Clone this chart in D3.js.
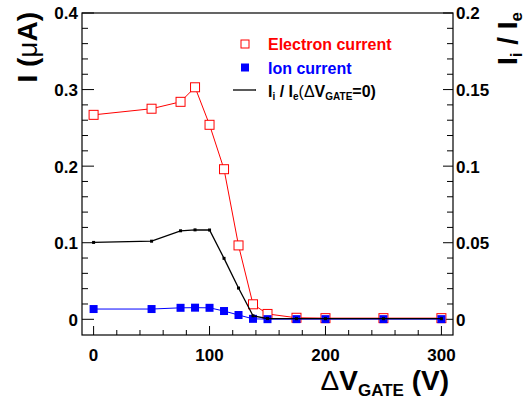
<!DOCTYPE html>
<html>
<head>
<meta charset="utf-8">
<script src="https://cdn.jsdelivr.net/npm/d3@7"></script>
<style>
  body { margin: 0; background: #fff; }
  text { font-family: "Liberation Sans", Arial, sans-serif; font-weight: bold; }
</style>
</head>
<body>
<svg id="chart" width="531" height="401"></svg>
<script>
// gate voltage difference (V)
const dvGate = [0, 50, 75, 87.5, 100, 112.5, 125, 137.5, 150, 175, 200, 250, 300];
// currents in uA
const electronCurrent = [0.267, 0.275, 0.284, 0.303, 0.254, 0.196, 0.0965, 0.0196, 0.007, 0.002, 0.0015, 0.0015, 0.0015];
const ionCurrent = [0.0134, 0.0134, 0.015, 0.0152, 0.015, 0.0108, 0.0056, 0.0006, 0.0002, 0.0002, 0.0002, 0.0002, 0.0002];
// Ii / Ie(dV=0), right axis
const ratio = [0.0502, 0.051, 0.0578, 0.0584, 0.0583, 0.0398, 0.0204, 0.0023, 0.0005, 0.0004, 0.0004, 0.0004, 0.0004];

const xTicks = [0, 100, 200, 300];
const yTicks = [0, 0.1, 0.2, 0.3, 0.4];
const y2Ticks = [0, 0.05, 0.1, 0.15, 0.2];

const svg = d3.select("#chart");
const L = 82, R = 453, T = 13, B = 335;

const x = d3.scaleLinear().domain([-10, 310]).range([L, R]);
const y = d3.scaleLinear().domain([-0.0205, 0.4]).range([B, T]);
const y2 = d3.scaleLinear().domain([-0.01025, 0.2]).range([B, T]);

// frame
svg.append("rect")
  .attr("x", L).attr("y", T).attr("width", R - L).attr("height", B - T)
  .attr("fill", "none").attr("stroke", "#000").attr("stroke-width", 1.2);

// left axis
let ax = svg.append("g").attr("stroke", "#000").attr("stroke-width", 1);
d3.range(0, 0.4001, 0.02).forEach((v, i) => {
  let len = (i % 5 === 0) ? 12 : 6;
  ax.append("line").attr("x1", L).attr("x2", L + len).attr("y1", y(v)).attr("y2", y(v));
});
svg.selectAll(".ylab").data(yTicks).enter().append("text")
  .attr("x", 78).attr("y", d => y(d)).attr("dy", "0.38em")
  .attr("text-anchor", "end").attr("font-size", 17)
  .text(d => d3.format("~g")(d));

// right axis
d3.range(0, 0.2001, 0.01).forEach((v, i) => {
  let len = (i % 5 === 0) ? 10 : 6;
  ax.append("line").attr("x1", R).attr("x2", R - len).attr("y1", y2(v)).attr("y2", y2(v));
});
svg.selectAll(".y2lab").data(y2Ticks).enter().append("text")
  .attr("x", 456).attr("y", d => y2(d)).attr("dy", "0.38em")
  .attr("text-anchor", "start").attr("font-size", 17)
  .text(d => d3.format("~g")(d));

// bottom axis
d3.range(0, 301, 20).forEach((v, i) => {
  let len = (i % 5 === 0) ? 9 : 5;
  ax.append("line").attr("x1", x(v)).attr("x2", x(v)).attr("y1", B).attr("y2", B - len);
});
svg.selectAll(".xlab").data(xTicks).enter().append("text")
  .attr("x", d => x(d)).attr("y", 361)
  .attr("text-anchor", "middle").attr("font-size", 17)
  .text(d => d);

// axis titles
let xt = svg.append("text").attr("x", 449).attr("y", 390).attr("text-anchor", "end").attr("font-size", 28);
xt.append("tspan").attr("font-weight", "normal").text("\u0394");
xt.append("tspan").text("V");
xt.append("tspan").attr("font-size", 17).attr("dy", 6).text("GATE");
xt.append("tspan").attr("dy", -6).text(" (V)");

let yt = svg.append("text").attr("transform", "translate(37,12) rotate(-90)")
  .attr("text-anchor", "end").attr("font-size", 28);
yt.append("tspan").text("I (");
yt.append("tspan").attr("font-weight", "normal").text("\u03bc");
yt.append("tspan").text("A)");

let y2t = svg.append("text").attr("transform", "translate(517,12) rotate(-90)")
  .attr("text-anchor", "end").attr("font-size", 28);
y2t.append("tspan").text("I");
y2t.append("tspan").attr("font-size", 17).attr("dy", 5).text("i");
y2t.append("tspan").attr("dy", -5).text(" / I");
y2t.append("tspan").attr("font-size", 17).attr("dy", 5).text("e");

// series
const pts = (ys) => dvGate.map((d, i) => [d, ys[i]]);

svg.append("path").datum(pts(electronCurrent))
  .attr("fill", "none").attr("stroke", "#ff0000").attr("stroke-width", 1)
  .attr("d", d3.line().x(d => x(d[0])).y(d => y(d[1])));
svg.selectAll(".el").data(pts(electronCurrent)).enter().append("rect")
  .attr("x", d => x(d[0]) - 4.5).attr("y", d => y(d[1]) - 4.5)
  .attr("width", 9).attr("height", 9)
  .attr("fill", "#fff").attr("stroke", "#ff0000").attr("stroke-width", 1);

svg.append("path").datum(pts(ionCurrent))
  .attr("fill", "none").attr("stroke", "#0000ff").attr("stroke-width", 1)
  .attr("d", d3.line().x(d => x(d[0])).y(d => y(d[1])));
svg.selectAll(".ion").data(pts(ionCurrent)).enter().append("rect")
  .attr("x", d => x(d[0]) - 4).attr("y", d => y(d[1]) - 4)
  .attr("width", 8).attr("height", 8)
  .attr("fill", "#0000ff");

svg.append("path").datum(pts(ratio))
  .attr("fill", "none").attr("stroke", "#000").attr("stroke-width", 1.3)
  .attr("d", d3.line().x(d => x(d[0])).y(d => y2(d[1])));
svg.selectAll(".rat").data(pts(ratio)).enter().append("rect")
  .attr("x", d => x(d[0]) - 1.5).attr("y", d => y2(d[1]) - 1.5)
  .attr("width", 3).attr("height", 3).attr("fill", "#000");

// legend
let lg = svg.append("g");
lg.append("rect").attr("x", 241).attr("y", 40).attr("width", 8).attr("height", 8)
  .attr("fill", "#fff").attr("stroke", "#ff0000");
lg.append("text").attr("x", 268).attr("y", 50).attr("font-size", 16).attr("fill", "#ff0000").text("Electron current");
lg.append("rect").attr("x", 241).attr("y", 63.5).attr("width", 8).attr("height", 8).attr("fill", "#0000ff");
lg.append("text").attr("x", 268).attr("y", 74).attr("font-size", 16).attr("fill", "#0000ff").text("Ion current");
lg.append("line").attr("x1", 233).attr("x2", 256).attr("y1", 90).attr("y2", 90).attr("stroke", "#000").attr("stroke-width", 1.3);
let lt = lg.append("text").attr("x", 268).attr("y", 97).attr("font-size", 16);
lt.append("tspan").text("I");
lt.append("tspan").attr("font-size", 10).attr("dy", 3).text("i");
lt.append("tspan").attr("dy", -3).text(" / I");
lt.append("tspan").attr("font-size", 10).attr("dy", 3).text("e");
lt.append("tspan").attr("dy", -3).attr("font-weight", "normal").text("(\u0394");
lt.append("tspan").text("V");
lt.append("tspan").attr("font-size", 10).attr("dy", 3).text("GATE");
lt.append("tspan").attr("dy", -3).text("=0)");
</script>
</body>
</html>
